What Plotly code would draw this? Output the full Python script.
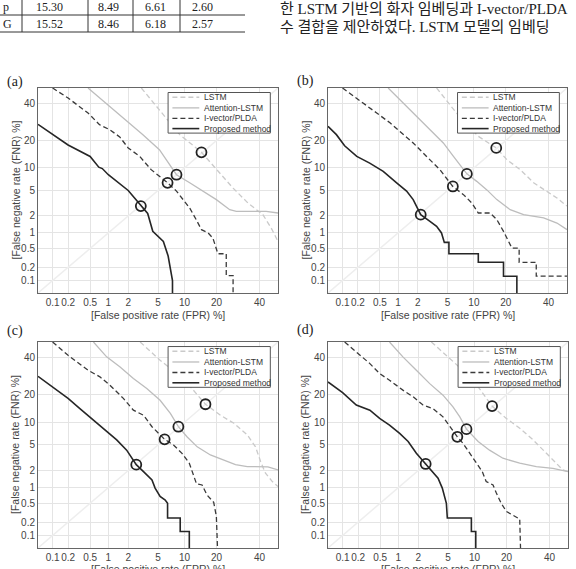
import plotly.graph_objects as go
from statistics import NormalDist

_nd = NormalDist()


def probit(vals):
    return [_nd.inv_cdf(v / 100.0) for v in vals]


W, H = 576, 569

# ---------------- data (percent) ----------------
methods = ["LSTM", "Attention-LSTM", "I-vector/PLDA", "Proposed method"]
tick_vals_pct = [0.1, 0.2, 0.5, 1, 2, 5, 10, 20, 40]
tick_text = ["0.1", "0.2", "0.5", "1", "2", "5", "10", "20", "40"]
axis_limits_pct = [0.05, 50]
panel_labels = ["(a)", "(b)", "(c)", "(d)"]

# panel (a)
a_lstm_fpr = [3.05, 5.2, 8.9, 14.7, 19.9, 26.9, 34, 41.8, 46.3, 50]
a_lstm_fnr = [50, 36.4, 22.7, 15.1, 9.5, 5.4, 3.25, 2.1, 1.23, 0.69]
a_att_fpr = [0.46, 1.05, 1.88, 3.2, 5.2, 8.2, 11.3, 15.2, 19.9, 25.4, 28.4, 43.6, 50]
a_att_fnr = [50, 38.4, 29.6, 22.7, 16.1, 8.2, 6.4, 4.9, 3.66, 2.54, 2.39, 2.39, 2.24]
a_ivec_fpr = [0.1, 0.2, 0.46, 0.72, 1.05, 1.5, 2.0, 2.9, 4.1, 6.5, 8.2, 9.6, 11.3, 13.1,
              14.7, 16.9, 18.6, 20.5, 23.9, 23.9, 26.9, 26.9]
a_ivec_fnr = [50, 43.6, 34.4, 27.8, 25.2, 21.6, 16.8, 13.6, 9.5, 6.4, 4.9, 3.66, 2.7, 1.73,
              1.15, 1.0, 0.8, 0.39, 0.39, 0.13, 0.13, 0.04]
a_prop_fpr = [0.05, 0.1, 0.2, 0.5, 0.7, 0.8, 1.0, 2.0, 3.0, 3.7, 4.3, 5.8, 6.6, 7.2, 7.4, 7.4]
a_prop_fnr = [28, 22.7, 18, 13.6, 10.2, 9.8, 8.2, 5.0, 2.9, 2.2, 1.07, 0.69, 0.35, 0.14, 0.1, 0.04]
a_circ_fpr = [14.7, 8.2, 6.5, 3.0]
a_circ_fnr = [15.1, 8.2, 6.4, 2.9]

# panel (b)
b_lstm_fpr = [3.63, 6.4, 11.1, 16.5, 20.4, 26, 32.3, 39.1, 44.5, 50]
b_lstm_fnr = [50, 34.4, 21.9, 16.8, 12.5, 9.5, 6.4, 4.9, 3.88, 2.9]
b_att_fpr = [0.69, 1.2, 1.92, 2.96, 4.43, 5.9, 7.35, 8.4, 10.7, 13.5, 16.7, 21.7, 27.5, 37.4, 44.5, 50]
b_att_fnr = [50, 40.5, 32.5, 25.2, 18.9, 13.6, 10.4, 8.4, 6.7, 5.1, 3.66, 2.54, 2.1, 1.85, 1.51, 1.15]
b_ivec_fpr = [0.1, 0.2, 0.44, 0.74, 1.07, 1.71, 2.66, 4.0, 5.8, 7.7, 9.5, 11.1, 14.5, 16.7,
              19.1, 21, 22.4, 25.5, 25.5, 33.6, 33.6, 50]
b_ivec_fnr = [50, 42.6, 34.4, 28.8, 24.4, 18.9, 13.6, 9.5, 5.7, 4.35, 3.25, 2.24, 2.24, 1.73,
              1.07, 0.69, 0.51, 0.51, 0.257, 0.257, 0.126, 0.126]
b_prop_fpr = [0.05, 0.075, 0.11, 0.19, 0.33, 0.57, 0.95, 1.36, 1.71, 2.2, 2.96, 3.63, 4.2,
              4.56, 5.2, 5.2, 11.1, 11.1, 19.1, 19.1, 24.5, 24.5]
b_prop_fnr = [26.9, 22.7, 17.7, 13.6, 11.4, 9.06, 6.4, 4.9, 3.66, 2.1, 1.62, 1.32, 1.0,
              0.66, 0.66, 0.39, 0.39, 0.257, 0.257, 0.126, 0.126, 0.04]
b_circ_fpr = [16.5, 8.4, 5.8, 2.2]
b_circ_fnr = [16.8, 8.4, 5.7, 2.1]

# panel (c)
c_lstm_fpr = [2.94, 5.3, 8.3, 11.5, 16.0, 21.5, 27.3, 33.7, 37.9, 40.6, 43.2, 46.9, 50]
c_lstm_fnr = [50, 38.5, 30.7, 23.7, 16.0, 12.1, 9.7, 6.9, 4.7, 2.8, 1.8, 1.29, 1.05]
c_att_fpr = [0.57, 0.94, 1.52, 2.37, 3.6, 5.3, 7.0, 8.6, 10.6, 13.4, 17.7, 22.9, 28, 33.7, 44.5, 50]
c_att_fnr = [50, 40.6, 34.5, 28, 22.9, 17.6, 12.7, 8.8, 6.5, 4.7, 3.56, 2.98, 2.5, 2.33, 2.3, 2.05]
c_ivec_fpr = [0.1, 0.2, 0.46, 0.73, 1.06, 1.7, 2.37, 3.26, 4.2, 6.0, 7.6, 9.4, 11.2, 12.2,
              13.2, 14.9, 16.5, 18.9, 19.9, 20.4]
c_ivec_fnr = [50, 41.6, 32.6, 28.9, 24.5, 18.4, 13.8, 12.1, 8.8, 6.0, 5.0, 3.77, 2.64, 1.8,
              1.17, 1.12, 0.73, 0.52, 0.27, 0.04]
c_prop_fpr = [0.05, 0.1, 0.2, 0.33, 0.5, 0.73, 1.0, 1.35, 1.9, 2.6, 3.26, 4.2, 4.6, 5.3,
              6.1, 6.5, 6.5, 9.0, 9.0, 11.2, 11.2]
c_prop_fnr = [29.2, 23.7, 18.4, 14.4, 11.4, 9.2, 7.2, 5.9, 4.2, 2.5, 1.92, 1.38, 0.98, 0.68,
              0.58, 0.5, 0.246, 0.246, 0.124, 0.124, 0.04]
c_circ_fpr = [16.0, 8.6, 6.0, 2.6]
c_circ_fnr = [16.0, 8.8, 6.0, 2.5]

# panel (d)
d_lstm_fpr = [3.05, 5.24, 8.2, 10.9, 14.9, 19.9, 25.4, 31.6, 38.3, 43.6, 47.2, 50]
d_lstm_fnr = [50, 39.5, 30.7, 23.7, 15.3, 11.1, 8.4, 5.9, 3.77, 2.64, 2.05, 1.92]
d_att_fpr = [0.72, 1.18, 1.88, 2.9, 4.33, 5.74, 6.9, 8.2, 10.9, 14.1, 18.6, 25.4, 33.2, 41.8, 50]
d_att_fnr = [50, 40.6, 32.6, 25.3, 19.8, 15.0, 11.6, 8.2, 5.6, 4.2, 3.17, 2.64, 2.33, 2.18, 1.92]
d_ivec_fpr = [0.11, 0.2, 0.33, 0.49, 0.72, 1.18, 1.68, 2.34, 3.2, 4.33, 5.24, 6.46, 7.5, 8.9,
              10.4, 12, 13.1, 15.2, 16.3, 18, 19.9, 22.3, 25.4, 25.8]
d_ivec_fnr = [50, 42.6, 36.5, 30.7, 27.1, 22.1, 19.1, 15.7, 14.4, 11.6, 8.8, 6.5, 5.27, 3.77,
              2.8, 1.92, 1.29, 1.12, 0.79, 0.5, 0.34, 0.29, 0.234, 0.04]
d_prop_fpr = [0.05, 0.1, 0.185, 0.33, 0.49, 0.72, 1.05, 1.42, 1.88, 2.55, 3.05, 3.74, 4.24,
              4.54, 4.77, 4.9, 9.26, 9.26, 10.3, 10.3]
d_prop_fnr = [26.2, 20.9, 15.7, 13.8, 11.1, 9.2, 7.2, 5.6, 3.77, 2.57, 2.05, 1.48, 0.98,
              0.68, 0.5, 0.246, 0.246, 0.124, 0.124, 0.04]
d_circ_fpr = [14.9, 8.2, 6.46, 2.55]
d_circ_fnr = [15.3, 8.2, 6.5, 2.57]

# table fragment at the top
table_row_heads = ["p", "G"]
table_row1 = ["15.30", "8.49", "6.61", "2.60"]
table_row2 = ["15.52", "8.46", "6.18", "2.57"]
korean_lines = ["한 LSTM 기반의 화자 임베딩과 I-vector/PLDA",
                "수 결합을 제안하였다. LSTM 모델의 임베딩"]

panels = [
    [(a_lstm_fpr, a_lstm_fnr), (a_att_fpr, a_att_fnr), (a_ivec_fpr, a_ivec_fnr), (a_prop_fpr, a_prop_fnr), (a_circ_fpr, a_circ_fnr)],
    [(b_lstm_fpr, b_lstm_fnr), (b_att_fpr, b_att_fnr), (b_ivec_fpr, b_ivec_fnr), (b_prop_fpr, b_prop_fnr), (b_circ_fpr, b_circ_fnr)],
    [(c_lstm_fpr, c_lstm_fnr), (c_att_fpr, c_att_fnr), (c_ivec_fpr, c_ivec_fnr), (c_prop_fpr, c_prop_fnr), (c_circ_fpr, c_circ_fnr)],
    [(d_lstm_fpr, d_lstm_fnr), (d_att_fpr, d_att_fnr), (d_ivec_fpr, d_ivec_fnr), (d_prop_fpr, d_prop_fnr), (d_circ_fpr, d_circ_fnr)],
]

# ---------------- styles / layout (pixels) ----------------
styles = [
    dict(color="#cacaca", width=1.3, dash="5px,3px"),
    dict(color="#bdbdbd", width=1.3, dash="solid"),
    dict(color="#3a3a3a", width=1.3, dash="5px,3px"),
    dict(color="#262626", width=1.6, dash="solid"),
]
# box pixel positions (left, right, top, bottom)
boxes = [(38, 278, 88, 293), (328, 567, 88, 293), (38, 278, 342, 548), (328, 568, 342, 548)]
label_pos = [(15, 82), (305, 81), (15, 331), (305, 330)]
xtitle_offset = [22, 22, 21, 21]

AX_FONT = "Liberation Sans, Arial, sans-serif"
SERIF = "Liberation Serif, Times New Roman, serif"


def px(x):
    return x / W


def py(y):
    return 1 - y / H


fig = go.Figure()
layout = dict(
    width=W, height=H, margin=dict(l=0, r=0, t=0, b=0),
    paper_bgcolor="white", plot_bgcolor="white", showlegend=False,
)
shapes = []
annotations = []
rng = probit(axis_limits_pct)
tv = probit(tick_vals_pct)

for i, (panel, box) in enumerate(zip(panels, boxes)):
    n = "" if i == 0 else str(i + 1)
    xa, ya = "x" + n, "y" + n
    l, r, t, b = box
    common = dict(
        range=rng, tickvals=tv, ticktext=tick_text, tickangle=0,
        showgrid=True, gridcolor="#e4e4e4", gridwidth=1, zeroline=False,
        showline=True, linecolor="#666", linewidth=1, mirror=True,
        ticks="", tickfont=dict(family=AX_FONT, size=10, color="#444"),
    )
    layout["xaxis" + n] = dict(domain=[px(l), px(r)], anchor=ya, **common)
    layout["yaxis" + n] = dict(domain=[py(b), py(t)], anchor=xa, **common)
    # faint diagonal (FPR = FNR)
    fig.add_trace(go.Scatter(x=probit(axis_limits_pct), y=probit(axis_limits_pct), mode="lines",
                             line=dict(color="#eeeeee", width=1.5), xaxis=xa, yaxis=ya,
                             hoverinfo="skip"))
    for k in range(4):
        fx, fy = panel[k]
        fig.add_trace(go.Scatter(x=probit(fx), y=probit(fy), mode="lines", name=methods[k],
                                 line=styles[k], xaxis=xa, yaxis=ya))
    cx, cy = panel[4]
    fig.add_trace(go.Scatter(x=probit(cx), y=probit(cy), mode="markers",
                             marker=dict(symbol="circle-open", size=10, color="#222",
                                         line=dict(width=1.8, color="#222")),
                             xaxis=xa, yaxis=ya))

    # legend drawn in the axes' domain
    xd, yd = xa + " domain", ya + " domain"
    shapes.append(dict(type="rect", xref=xd, yref=yd, x0=0.542, x1=0.968, y0=0.78, y1=0.978,
                       line=dict(color="#555", width=1), fillcolor="white", layer="above"))
    rows = [0.955, 0.903, 0.852, 0.802]
    for k, yy in enumerate(rows):
        s = styles[k]
        shapes.append(dict(type="line", xref=xd, yref=yd, x0=0.56, x1=0.672, y0=yy, y1=yy,
                           line=dict(color=s["color"], width=s["width"], dash=s["dash"]),
                           layer="above"))
        annotations.append(dict(xref=xd, yref=yd, x=0.682, y=yy, text=methods[k],
                                showarrow=False, xanchor="left", yanchor="middle",
                                font=dict(family=AX_FONT, size=8.5, color="#333")))

    # axis titles
    cxp = (l + r) / 2
    annotations.append(dict(xref="paper", yref="paper", x=px(cxp), y=py(b + xtitle_offset[i]),
                            text="[False positive rate (FPR) %]", showarrow=False,
                            xanchor="center", yanchor="middle",
                            font=dict(family=AX_FONT, size=10.5, color="#444")))
    annotations.append(dict(xref="paper", yref="paper", x=px(l - 23), y=py((t + b) / 2),
                            text="[False negative rate (FNR) %]", showarrow=False,
                            textangle=-90, xanchor="center", yanchor="middle",
                            font=dict(family=AX_FONT, size=10.5, color="#444")))
    lx, ly = label_pos[i]
    annotations.append(dict(xref="paper", yref="paper", x=px(lx), y=py(ly),
                            text=panel_labels[i], showarrow=False,
                            xanchor="center", yanchor="middle",
                            font=dict(family=SERIF, size=14, color="#222")))

# ---- table fragment (top left) ----
for yline in (15, 32):
    shapes.append(dict(type="line", xref="paper", yref="paper", x0=0, x1=px(245),
                       y0=py(yline), y1=py(yline), line=dict(color="#333", width=1)))
for xline in (22, 88, 133, 180):
    shapes.append(dict(type="line", xref="paper", yref="paper", x0=px(xline), x1=px(xline),
                       y0=py(0), y1=py(32), line=dict(color="#333", width=1)))
col_centers = [49, 108, 155, 202]
for row_y, head, vals in ((7, table_row_heads[0], table_row1), (24, table_row_heads[1], table_row2)):
    annotations.append(dict(xref="paper", yref="paper", x=px(1), y=py(row_y), text=head,
                            showarrow=False, xanchor="left", yanchor="middle",
                            font=dict(family=SERIF, size=12, color="#222")))
    for cxv, v in zip(col_centers, vals):
        annotations.append(dict(xref="paper", yref="paper", x=px(cxv), y=py(row_y), text=v,
                                showarrow=False, xanchor="center", yanchor="middle",
                                font=dict(family=SERIF, size=12, color="#222")))

# ---- Korean body text (top right) ----
for yy, line in zip((9, 27), korean_lines):
    annotations.append(dict(xref="paper", yref="paper", x=px(278), y=py(yy), text=line,
                            showarrow=False, xanchor="left", yanchor="middle",
                            font=dict(family="Liberation Serif, Noto Sans CJK KR", size=15,
                                      color="#222")))

layout["shapes"] = shapes
layout["annotations"] = annotations
fig.update_layout(**layout)
fig.write_html("out.html")
